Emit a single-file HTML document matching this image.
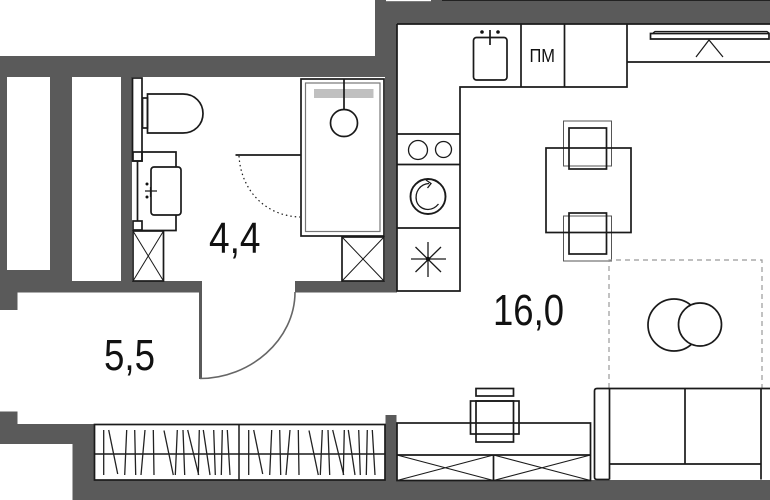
<!DOCTYPE html>
<html><head><meta charset="utf-8"><style>
html,body{margin:0;padding:0;background:#fff;width:770px;height:500px;overflow:hidden}
svg{display:block}
text{font-family:"Liberation Sans",sans-serif;fill:#111}
</style></head><body>
<svg width="770" height="500" viewBox="0 0 770 500" xmlns="http://www.w3.org/2000/svg">
<rect width="770" height="500" fill="#fff"/>
<g fill="#5a5a5a">
<rect x="0" y="56" width="397" height="21"/>
<rect x="375" y="0" width="395" height="23.5"/>
<rect x="375" y="0" width="22" height="77"/>
<rect x="385" y="0" width="12" height="292"/>
<rect x="0" y="56" width="7" height="254"/>
<rect x="0" y="292" width="17.5" height="18"/>
<rect x="50" y="77" width="22" height="204"/>
<rect x="7" y="270" width="60" height="14"/>
<rect x="121" y="77" width="11" height="204"/>
<rect x="0" y="281" width="202" height="11.5"/>
<rect x="295" y="281" width="102" height="11.5"/>
<rect x="199" y="292" width="3" height="87"/>
<rect x="0" y="411.5" width="17.5" height="14"/>
<rect x="0" y="424" width="95" height="20"/>
<rect x="72.5" y="424" width="22" height="76"/>
<rect x="72.5" y="480" width="697.5" height="20"/>
<rect x="385.5" y="415" width="11" height="70"/>
</g>
<rect x="386" y="0" width="45" height="1.2" fill="#fff"/>
<rect x="442" y="0" width="328" height="1" fill="#222"/>
<path d="M200 378.5 C250 378.5 295 340 295 292" fill="none" stroke="#666" stroke-width="1.6"/>

<g fill="none" stroke="#1a1a1a" stroke-width="1.7">
<!-- bathroom -->
<rect x="132.5" y="78" width="9.5" height="83" fill="#fff"/>
<rect x="133" y="152" width="9" height="9"/>
<path d="M137.5 161V221"/>
<rect x="133" y="221" width="9" height="9"/>
<path d="M142 152H176V167M176 215V230.500H133"/>
<rect x="151" y="167" width="30" height="48" rx="3"/>
<path d="M145 191H157M150.500 187V197" stroke-width="1.2"/>
<rect x="142.500" y="98" width="5" height="30"/>
<path d="M147.500 94H183C195 94 203 103 203 113.500C203 124 195 133 183 133H147.500Z"/>
<rect x="133" y="231" width="30.500" height="50"/>
<path d="M133 231L163.500 281M163.500 231L133 281" stroke-width="1"/>
<rect x="301" y="79" width="83" height="157"/>
<rect x="305.500" y="83" width="74.500" height="148.500" stroke="#777" stroke-width="1.200"/>
<rect x="314" y="89" width="59.500" height="9" fill="#c0c0c0" stroke="none"/>
<path d="M344 79V110"/>
<circle cx="344" cy="123" r="13.500" fill="#fff"/>
<path d="M235.500 155H301"/>
<path d="M239 156C241 190 265 216 300 217" stroke-width="1.200" stroke-dasharray="1.500 3"/>
<rect x="342" y="237" width="42" height="44"/>
<path d="M342 237L384 281M384 237L342 281" stroke-width="1"/>

<!-- kitchen -->
<path d="M397 24H770M397 24V291H460V87H627V24"/>
<path d="M521 24V87M564.500 24V87M627 62H770"/>
<path d="M397 134H460M397 164.500H460M397 228H460"/>
<rect x="473.500" y="37.500" width="33.500" height="42.500" rx="3"/>
<path d="M490 30V45"/>
<circle cx="418" cy="150" r="9.500" stroke-width="1.300"/>
<circle cx="443.500" cy="149.500" r="8" stroke-width="1.300"/>
<circle cx="428" cy="196.500" r="17.500" stroke-width="1.900"/>
<path d="M438.500 204C431 213 419 210 416.500 201C414.500 192 420 184 429 183.500" stroke-width="1.300"/>
<path d="M426 180L431 183.500L427.500 188" stroke-width="1.300"/>
<path d="M428 242V277M411 259H446M415.500 247L441 272M441 247L415.500 272" stroke-width="1.300"/>
<path d="M650.500 33.500H769V39H650.500Z" fill="#fff"/>
<path d="M653 33L655 31.500H767L769 33" stroke-width="1.200"/>
<path d="M696 57L709 40L723 57" stroke-width="1.200"/>

<!-- table and chairs -->
<rect x="563.500" y="121" width="48" height="45" stroke="#555" stroke-width="1"/>
<rect x="563.500" y="216" width="48" height="45" stroke="#555" stroke-width="1"/>
<rect x="546" y="148" width="85" height="84.500"/>
<rect x="569" y="128" width="37.500" height="41"/>
<rect x="569" y="213" width="37.500" height="41"/>

<!-- rug -->
<path d="M609 388V260H762V388" stroke="#999" stroke-width="1.200" stroke-dasharray="5 4"/>
<circle cx="674" cy="325" r="26"/>
<circle cx="700" cy="324.500" r="21.500" fill="#fff"/>

<!-- sofa -->
<path d="M770 388.500H597Q594.500 388.500 594.500 391V477Q594.500 479.500 597 479.500H609.500"/>
<path d="M609.500 388.500V479.500M685 388.500V464M761 388.500V479.500M609.500 464H761"/>

<!-- desk -->
<rect x="397" y="423" width="193.500" height="57.500"/>
<path d="M397 455H590.500M493.500 455V480.500"/>
<path d="M397 455L493.500 480.500M493.500 455L397 480.500M493.500 455L590.500 480.500M590.500 455L493.500 480.500" stroke-width="1.100"/>
<rect x="476" y="388.500" width="37.500" height="7.500"/>
<rect x="470.500" y="401" width="48.500" height="33"/>
<rect x="476" y="401" width="37.500" height="41"/>

<!-- closet -->
<rect x="94.500" y="424.500" width="290.500" height="55.500" fill="#fff"/>
<path d="M239 424.500V480M94.500 454H385" stroke-width="1.500"/>
<g stroke-width="1.300" stroke="#222">
<path d="M103.700 430V475M108.700 430L117.700 474M126.700 430L124.700 475M134.700 430L135.700 475M145 430L141 475M153.300 430L154 475M164 430.500L173.300 475M177.300 430L175.300 475M183 430L184.700 475M187.700 430L198.700 475M199.300 430L198.300 475M203.300 430L210 475M213.700 430L215.300 475M222.300 430L221.300 475M227.300 430L230 475"/>
</g>
<g stroke-width="1.300" stroke="#222" transform="translate(145,0)">
<path d="M103.700 430V475M108.700 430L117.700 474M126.700 430L124.700 475M134.700 430L135.700 475M145 430L141 475M153.300 430L154 475M164 430.500L173.300 475M177.300 430L175.300 475M183 430L184.700 475M187.700 430L198.700 475M199.300 430L198.300 475M203.300 430L210 475M213.700 430L215.300 475M222.300 430L221.300 475M227.300 430L230 475"/>
</g>
</g>
<circle cx="147" cy="184" r="1.500" fill="#111"/>
<circle cx="147" cy="197" r="1.500" fill="#111"/>
<circle cx="482" cy="32" r="1.800" fill="#111"/>
<circle cx="498" cy="32" r="1.800" fill="#111"/>
<circle cx="428" cy="259" r="2.200" fill="#111"/>

<text x="529.500" y="62" font-size="18" textLength="25.500" lengthAdjust="spacingAndGlyphs">ПМ</text>
<text x="209" y="253" font-size="44" textLength="51.500" lengthAdjust="spacingAndGlyphs">4,4</text>
<text x="104" y="370" font-size="44" textLength="51" lengthAdjust="spacingAndGlyphs">5,5</text>
<text x="493" y="325" font-size="44" textLength="71" lengthAdjust="spacingAndGlyphs">16,0</text>
</svg>
</body></html>
